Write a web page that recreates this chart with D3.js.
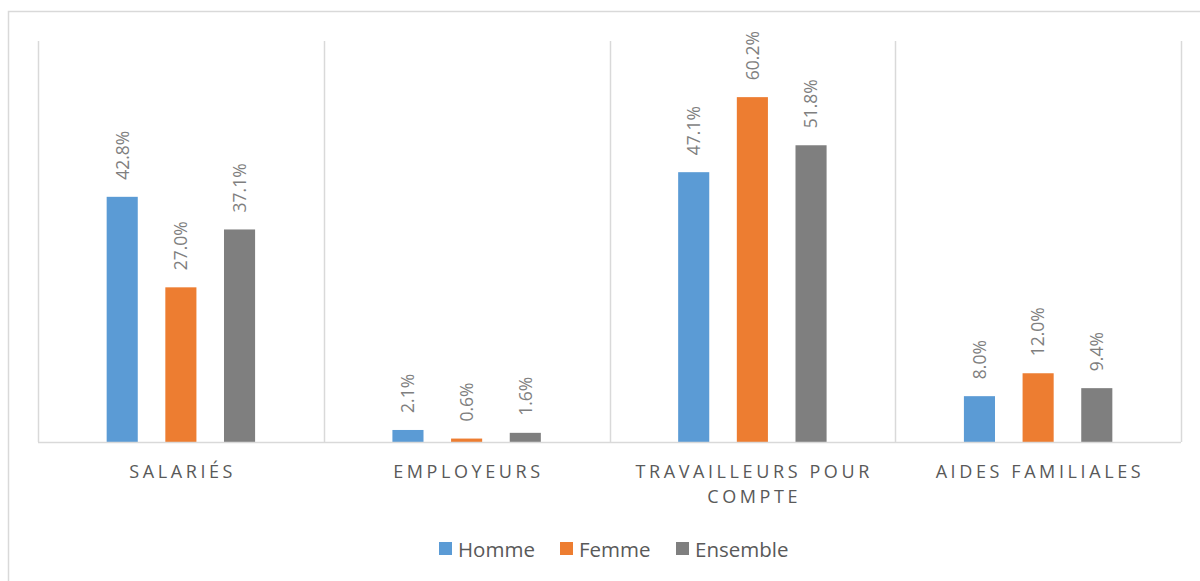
<!DOCTYPE html>
<html>
<head lang="fr">
    <meta charset="UTF-8">
    <title>Statut dans l'emploi</title>
    <script src="https://cdn.jsdelivr.net/npm/d3@7/dist/d3.min.js" charset="utf-8"></script>
    <style>
        body { margin: 0; background: #fff; }
        text { font-family: "Open Sans", sans-serif; }
    </style>
</head>
<body>
    <script>
        var categories = ["SALARIÉS", "EMPLOYEURS", "TRAVAILLEURS POUR COMPTE", "AIDES FAMILIALES"];
        var seriesNames = ["Homme", "Femme", "Ensemble"];
        var homme = [42.8, 2.1, 47.1, 8.0];
        var femme = [27.0, 0.6, 60.2, 12.0];
        var ensemble = [37.1, 1.6, 51.8, 9.4];
        var colors = ["#5b9bd5", "#ed7d31", "#7f7f7f"];

        var w = 1200, h = 581;
        var plotLeft = 38, plotRight = 1181, plotTop = 41, plotBottom = 442;

        var values = [homme, femme, ensemble];
        var rows = [];
        categories.forEach(function (c, i) {
            seriesNames.forEach(function (s, j) {
                rows.push({cat: c, series: s, value: values[j][i], color: colors[j]});
            });
        });

        var svg = d3.select("body")
                .append("svg")
                .attr("width", w)
                .attr("height", h);

        // outer chart border (bottom/right are cut off in the picture)
        svg.append("rect")
                .attr("x", 8.5).attr("y", 11.5)
                .attr("width", 1250).attr("height", 650)
                .attr("fill", "none")
                .attr("stroke", "#d9d9d9")
                .attr("stroke-width", 1.5);

        var x0 = d3.scaleBand().domain(categories).range([plotLeft, plotRight]).padding(0);
        var half = x0.bandwidth() / 2;
        var x1 = d3.scaleBand().domain(seriesNames)
                .range([half - 88, half + 88])
                .paddingInner(0.47).paddingOuter(0.235);
        var y = d3.scaleLinear().domain([0, 70]).range([plotBottom, plotTop]);

        // vertical separators between categories
        var seps = categories.map(function (c) { return x0(c); }).concat([plotRight]);
        svg.selectAll("line.sep")
                .data(seps)
                .enter()
                .append("line")
                .attr("class", "sep")
                .attr("x1", function (d) { return Math.round(d) + 0.5; })
                .attr("x2", function (d) { return Math.round(d) + 0.5; })
                .attr("y1", plotTop)
                .attr("y2", plotBottom)
                .attr("stroke", "#d9d9d9")
                .attr("stroke-width", 1.5);

        svg.selectAll("rect.bar")
                .data(rows)
                .enter()
                .append("rect")
                .attr("class", "bar")
                .attr("x", function (d) { return x0(d.cat) + x1(d.series); })
                .attr("y", function (d) { return y(d.value); })
                .attr("width", x1.bandwidth())
                .attr("height", function (d) { return plotBottom - y(d.value); })
                .attr("fill", function (d) { return d.color; });

        // baseline
        svg.append("line")
                .attr("x1", plotLeft).attr("x2", plotRight)
                .attr("y1", plotBottom + 0.5).attr("y2", plotBottom + 0.5)
                .attr("stroke", "#d9d9d9")
                .attr("stroke-width", 1.5);

        // value labels, rotated
        svg.selectAll("text.val")
                .data(rows)
                .enter()
                .append("text")
                .attr("class", "val")
                .attr("transform", function (d) {
                    var cx = x0(d.cat) + x1(d.series) + x1.bandwidth() / 2;
                    return "translate(" + cx + "," + (y(d.value) - 17) + ") rotate(-90)";
                })
                .attr("dy", "0.36em")
                .attr("font-size", 17.5)
                .attr("fill", "#7f7f7f")
                .text(function (d) { return d.value.toFixed(1) + "%"; });

        // category labels with wrapping
        var ls = 3.6;
        var catText = svg.selectAll("text.cat")
                .data(categories)
                .enter()
                .append("text")
                .attr("class", "cat")
                .attr("text-anchor", "middle")
                .attr("font-size", 18)
                .attr("letter-spacing", ls)
                .attr("fill", "#595959")
                .attr("x", function (d) { return x0(d) + half + ls / 2; })
                .attr("y", 478);

        catText.each(function (d) {
            var t = d3.select(this);
            var words = d.split(" ");
            var line = [];
            var span = t.append("tspan").attr("x", t.attr("x")).attr("dy", 0);
            words.forEach(function (word) {
                line.push(word);
                span.text(line.join(" "));
                if (span.node().getComputedTextLength() > 250 && line.length > 1) {
                    line.pop();
                    span.text(line.join(" "));
                    line = [word];
                    span = t.append("tspan").attr("x", t.attr("x")).attr("dy", 25).text(word);
                }
            });
        });

        // legend
        var legendX = [439, 560, 676];
        var legend = svg.selectAll("g.legend")
                .data(seriesNames)
                .enter()
                .append("g")
                .attr("class", "legend")
                .attr("transform", function (d, i) { return "translate(" + legendX[i] + ",542)"; });

        legend.append("rect")
                .attr("width", 13)
                .attr("height", 13)
                .attr("fill", function (d, i) { return colors[i]; });

        legend.append("text")
                .attr("x", 19)
                .attr("y", 14.5)
                .attr("font-size", 20.5)
                .attr("fill", "#595959")
                .text(function (d) { return d; });
    </script>
</body>
</html>
